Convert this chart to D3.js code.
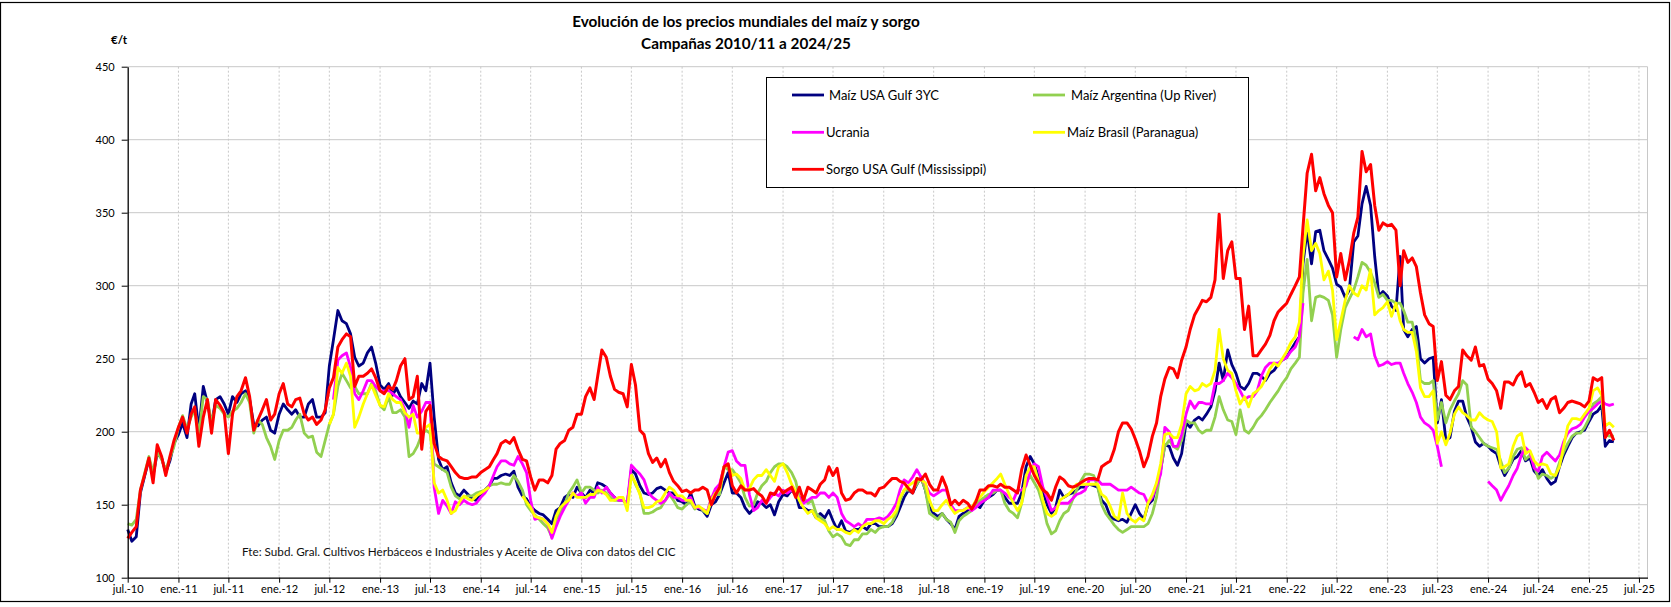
<!DOCTYPE html>
<html>
<head>
<meta charset="utf-8">
<script src="https://cdn.jsdelivr.net/npm/d3@7"></script>
<style>
  body { margin: 0; background: #fff; }
  svg { display: block; font-family: Lato, 'Open Sans', sans-serif; }
</style>
</head>
<body>
<div id="wrapper"></div>
<script>
// half-monthly readings from jul-10 (index 0) to apr-25, null = no quote
const firstYear = 2010
const firstMonth = 6

const usaGulf = [
  133,125,128,158,170,181,170,185,182,172,180,192,
  198,206,196,219,226,201,231,220,205,222,224,219,
  212,224,220,226,228,222,205,204,208,210,201,199,
  212,219,215,212,215,210,210,219,222,210,210,213,
  245,263,283,276,274,267,251,245,247,254,258,247,
  232,229,233,225,230,224,220,216,221,219,233,228,
  247,210,181,174,176,165,158,156,160,157,154,153,
  157,160,163,168,168,170,171,170,173,162,156,154,
  149,146,144,143,140,137,146,148,155,157,155,162,
  158,155,160,158,165,164,162,158,155,153,153,150,
  174,171,163,158,157,158,161,162,160,158,158,153,
  152,150,158,149,147,146,142,150,152,157,165,172,
  158,158,155,148,144,147,152,151,148,150,143,152,
  157,156,160,157,148,148,146,146,141,144,141,146,
  139,133,139,132,131,133,133,135,133,137,137,135,
  135,135,137,142,148,155,160,158,164,169,160,148,
  144,142,144,140,137,133,142,144,146,148,150,148,
  153,155,157,160,160,155,151,151,151,158,176,183,
  178,169,159,150,144,148,160,155,157,158,160,162,
  162,164,163,162,153,150,142,140,139,140,138,144,
  150,144,140,150,153,164,174,191,190,182,177,185,
  206,203,208,210,208,212,217,228,247,235,256,246,
  240,231,229,233,240,240,238,235,240,242,246,249,
  251,256,261,265,315,338,315,337,338,324,318,312,
  301,299,292,297,330,334,356,368,355,320,293,296,
  293,286,283,320,270,265,270,272,250,247,250,251,
  206,222,194,196,214,221,221,210,203,193,190,192,
  190,187,185,176,170,175,181,183,187,180,182,173,
  170,174,168,164,166,176,184,190,196,199,200,201,
  207,212,214,218,190,194,193
]

const argentina = [
  137,136,140,160,172,183,172,186,181,174,182,190,
  203,211,202,210,215,198,224,222,206,218,216,212,
  210,214,216,220,226,220,199,208,205,196,190,181,
  194,201,201,203,208,212,199,196,197,186,183,194,
  205,212,231,240,235,230,231,226,226,226,233,228,
  218,215,224,213,213,215,210,183,185,190,198,201,
  199,178,176,174,172,162,156,154,155,156,156,158,
  159,160,163,164,164,165,164,164,170,166,160,150,
  146,143,140,137,134,128,140,145,150,158,162,167,
  158,162,162,160,158,160,158,155,153,153,153,151,
  171,164,158,144,144,145,147,148,153,157,153,148,
  147,150,152,147,149,146,144,155,157,157,176,174,
  174,170,165,155,149,150,158,163,166,172,176,178,
  178,176,172,166,155,155,151,153,144,141,139,132,
  128,130,128,123,122,126,126,130,130,133,131,134,
  135,135,138,144,153,160,160,160,164,169,160,144,
  142,140,144,140,138,131,139,142,144,146,150,153,
  155,157,158,160,160,151,146,144,141,151,165,170,
  165,160,150,137,130,132,139,144,146,153,160,166,
  171,171,170,162,150,144,140,136,133,131,133,135,
  135,135,135,137,144,155,174,190,194,190,188,194,
  208,206,206,201,199,201,201,210,224,215,208,207,
  198,215,201,199,203,208,211,215,220,224,228,233,
  237,243,247,251,295,318,276,292,293,292,290,280,
  251,270,285,291,297,306,316,314,309,302,292,294,
  290,290,288,288,283,275,275,262,235,233,233,235,
  208,220,206,215,221,226,235,232,203,200,196,192,
  190,189,188,180,172,175,183,188,189,181,184,177,
  168,171,170,168,170,179,186,192,197,199,199,203,
  209,219,221,224,198,197,197
]

const ucrania = [
  null,null,null,null,null,null,null,null,null,null,null,null,
  null,null,null,null,null,null,null,null,null,null,null,null,
  null,null,null,null,null,null,null,null,null,null,null,null,
  null,null,null,null,null,null,null,null,null,null,null,null,
  null,222,249,252,254,244,226,222,228,235,235,231,
  228,228,228,226,224,222,215,203,218,210,214,220,
  220,162,144,153,149,144,152,150,153,151,150,151,
  155,158,163,170,176,180,180,178,177,183,178,172,
  153,140,141,140,137,127,135,142,148,153,158,156,
  158,151,155,155,162,158,162,158,155,153,153,151,
  177,174,171,167,158,155,153,151,153,158,155,155,
  153,153,155,148,148,147,145,154,161,164,176,186,
  187,180,177,177,157,146,148,153,151,155,158,156,
  160,158,160,158,155,151,153,155,155,158,158,155,
  158,155,144,139,137,135,137,135,140,140,140,141,
  140,142,146,151,160,167,165,169,174,169,164,158,
  156,158,160,160,150,146,146,146,148,146,148,151,
  153,155,160,160,160,158,155,153,160,160,163,173,
  178,176,162,155,146,148,151,151,151,154,157,158,
  160,167,167,167,164,164,164,162,160,160,160,162,
  160,158,157,151,155,163,171,203,200,190,190,198,
  212,221,216,220,220,219,219,233,233,235,240,237,
  233,228,222,224,224,228,238,244,247,247,247,249,
  251,255,258,265,288,null,null,null,null,null,null,null,
  null,null,null,null,265,263,270,265,267,252,245,246,
  248,246,247,247,240,233,227,220,210,206,204,201,
  190,176,null,null,null,null,null,null,null,null,null,null,
  166,163,160,153,158,163,170,175,184,189,186,175,
  173,183,186,183,180,184,193,199,202,203,205,210,
  214,216,219,221,219,218,219
]

const brasil = [
  null,null,null,null,null,null,null,null,null,null,null,null,
  null,null,null,null,null,null,null,null,null,null,null,null,
  null,null,null,null,null,null,null,null,null,null,null,null,
  null,null,null,null,null,null,null,null,null,null,null,null,
  205,212,244,240,247,238,203,210,219,226,232,225,
  218,217,226,222,220,220,213,210,212,199,199,203,
  205,165,158,160,153,144,146,152,156,154,153,156,
  158,160,162,null,null,null,null,null,null,null,156,152,
  148,142,141,140,137,131,142,148,151,153,158,155,
  155,155,157,157,160,159,157,153,153,155,155,146,
  170,165,157,148,148,149,152,153,158,162,160,156,
  156,153,153,148,149,147,144,153,158,160,176,177,
  170,171,168,160,161,167,170,170,174,170,166,176,
  178,172,164,159,153,148,144,146,141,139,137,133,
  135,133,133,131,130,133,131,135,137,137,139,139,
  137,140,142,146,155,160,163,165,167,167,165,153,
  146,146,150,153,148,144,146,146,148,148,153,155,
  159,162,165,168,171,164,157,151,146,151,170,176,
  176,166,153,144,142,144,153,155,157,160,164,164,
  164,164,164,164,157,155,149,142,140,158,144,140,
  138,141,139,151,157,165,178,198,199,196,196,205,
  226,231,228,229,233,231,233,242,270,250,242,240,
  228,219,224,217,226,228,231,236,243,247,245,250,
  255,261,265,275,320,345,324,329,322,304,310,297,
  263,276,290,300,295,293,300,297,311,280,283,285,
  289,279,288,276,270,268,268,255,230,224,224,228,
  192,200,191,199,212,217,213,211,208,208,213,210,
  208,207,200,175,176,178,190,197,199,185,187,180,
  177,178,177,171,170,176,190,204,209,209,208,212,
  216,228,230,225,204,206,203
]

const sorgo = [
  127,131,135,160,171,182,165,191,183,170,183,194,
  203,210,199,212,217,190,210,222,199,222,218,213,
  185,212,224,228,237,224,201,208,215,222,208,212,
  226,233,219,217,222,223,212,208,210,205,208,215,
  230,237,258,263,267,265,231,238,238,240,243,237,
  228,226,231,229,235,245,250,222,224,238,188,214,
  218,192,183,181,180,176,172,169,168,168,169,169,
  172,174,176,181,185,192,194,192,196,188,181,180,
  169,160,167,167,165,170,188,192,194,201,203,212,
  212,224,230,222,238,256,251,238,229,227,226,217,
  246,232,201,198,185,179,182,176,181,172,166,163,
  159,160,158,160,160,162,160,150,157,162,176,178,
  163,158,163,160,160,161,158,156,151,158,157,162,
  158,160,162,155,162,153,162,160,158,164,167,176,
  170,175,158,153,154,158,160,160,158,158,156,161,
  162,165,168,168,166,165,161,158,168,167,171,164,
  160,160,169,162,150,153,150,153,151,147,152,160,
  160,163,163,162,164,162,162,160,158,174,184,177,
  170,165,160,158,153,162,169,167,163,162,163,165,
  167,168,168,167,176,178,180,188,200,206,206,202,
  195,187,176,183,197,206,224,236,244,243,237,249,
  258,270,280,285,290,289,292,304,349,305,324,330,
  305,305,270,286,252,252,256,260,266,276,282,285,
  288,294,300,306,340,377,390,365,374,363,355,350,
  306,322,304,317,336,347,392,378,383,355,338,343,
  341,342,338,300,324,316,319,313,295,280,274,272,
  235,248,225,222,228,231,256,252,249,258,245,246,
  236,233,228,216,234,234,232,238,241,231,233,227,
  220,222,216,222,224,213,216,220,221,220,219,217,
  221,237,235,237,196,201,194
]

const seriesNames = ['Maíz USA Gulf 3YC', 'Maíz Argentina (Up River)', 'Ucrania', 'Maíz Brasil (Paranagua)', 'Sorgo USA Gulf (Mississippi)']
const seriesValues = [usaGulf, argentina, ucrania, brasil, sorgo]
const seriesColors = ['#000080', '#92D050', '#FF00FF', '#FFFF00', '#FF0000']

const yTicks = [100, 150, 200, 250, 300, 350, 400, 450]
const xTickLabels = [
  'jul.-10','ene.-11','jul.-11','ene.-12','jul.-12','ene.-13','jul.-13','ene.-14',
  'jul.-14','ene.-15','jul.-15','ene.-16','jul.-16','ene.-17','jul.-17','ene.-18',
  'jul.-18','ene.-19','jul.-19','ene.-20','jul.-20','ene.-21','jul.-21','ene.-22',
  'jul.-22','ene.-23','jul.-23','ene.-24','jul.-24','ene.-25','jul.-25'
]

const titleLines = ['Evolución de los precios mundiales del maíz y sorgo', 'Campañas 2010/11 a 2024/25']
const sourceNote = 'Fte: Subd. Gral. Cultivos Herbáceos e Industriales y Aceite de Oliva con datos del CIC'

const drawChart = () => {
  const dimensions = {
    width: 1671,
    height: 607,
    margin: { top: 66.7, right: 23.5, bottom: 29.3, left: 127.7 }
  }
  dimensions.boundedWidth = dimensions.width - dimensions.margin.left - dimensions.margin.right
  dimensions.boundedHeight = dimensions.height - dimensions.margin.top - dimensions.margin.bottom

  const periodDate = (i) => new Date(firstYear, firstMonth + Math.floor(i / 2), i % 2 ? 16 : 1)
  const labelDate = (s) => new Date(2000 + +s.slice(-2), s.startsWith('ene') ? 0 : 6, 1)

  const wrapper = d3.select('#wrapper')
    .append('svg')
    .attr('width', dimensions.width)
    .attr('height', dimensions.height)

  // outer frame
  wrapper.append('rect')
    .attr('x', 0.5).attr('y', 2.5)
    .attr('width', dimensions.width - 2).attr('height', 599)
    .attr('fill', 'white').attr('stroke', 'black').attr('stroke-width', 1.2)

  const bounds = wrapper.append('g')
    .attr('transform', `translate(${dimensions.margin.left}, ${dimensions.margin.top})`)

  const scaleX = d3.scaleTime()
    .domain([new Date(2010, 6, 1), new Date(2025, 7, 1)])
    .range([0, dimensions.boundedWidth])

  const scaleY = d3.scaleLinear()
    .domain([100, 450])
    .range([dimensions.boundedHeight, 0])

  const tickDates = xTickLabels.map(labelDate)

  // grid
  bounds.append('g')
    .selectAll('line')
    .data(yTicks.slice(1))
    .join('line')
    .attr('x1', 0).attr('x2', dimensions.boundedWidth)
    .attr('y1', d => scaleY(d)).attr('y2', d => scaleY(d))
    .attr('stroke', '#c8c8c8')

  bounds.append('g')
    .selectAll('line')
    .data(tickDates.slice(1))
    .join('line')
    .attr('x1', d => scaleX(d)).attr('x2', d => scaleX(d))
    .attr('y1', 0).attr('y2', dimensions.boundedHeight)
    .attr('stroke', '#c8c8c8')
    .attr('stroke-dasharray', '2,2')

  bounds.append('line')
    .attr('x1', dimensions.boundedWidth).attr('x2', dimensions.boundedWidth)
    .attr('y1', 0).attr('y2', dimensions.boundedHeight)
    .attr('stroke', '#c8c8c8')

  // series
  const lineGenerator = d3.line()
    .defined(d => d.value != null)
    .x(d => scaleX(d.date))
    .y(d => scaleY(d.value))

  seriesValues.forEach((values, k) => {
    const points = values.map((value, i) => ({ date: periodDate(i), value }))
    bounds.append('path')
      .datum(points)
      .attr('d', lineGenerator)
      .attr('fill', 'none')
      .attr('stroke', seriesColors[k])
      .attr('stroke-width', k === 4 ? 3 : 2.8)
      .attr('stroke-linejoin', 'round')
  })

  // axes
  const xAxisGenerator = d3.axisBottom(scaleX)
    .tickValues(tickDates)
    .tickFormat((d, i) => xTickLabels[i])
    .tickSize(5)
    .tickSizeOuter(0)
    .tickPadding(3)
  const xAxis = bounds.append('g')
    .attr('transform', `translate(0, ${dimensions.boundedHeight})`)
    .call(xAxisGenerator)

  const yAxisGenerator = d3.axisLeft(scaleY)
    .tickValues(yTicks)
    .tickSize(6)
    .tickPadding(7)
    .tickSizeOuter(0)
  const yAxis = bounds.append('g').call(yAxisGenerator)

  ;[xAxis, yAxis].forEach(axis => {
    axis.select('.domain').attr('stroke', 'black').attr('stroke-width', 1.3)
    axis.selectAll('.tick line').attr('stroke', 'black')
    axis.selectAll('text')
      .attr('fill', 'black')
      .style('font-size', '11px')
      .style('font-family', 'Lato, sans-serif')
  })

  // source note
  wrapper.append('text')
    .text(sourceNote)
    .attr('x', 242)
    .attr('y', 556)
    .attr('fill', '#111')
    .style('font-size', '11.7px')

  // titles
  wrapper.selectAll('.title')
    .data(titleLines)
    .join('text')
    .attr('class', 'title')
    .text(d => d)
    .attr('x', 746)
    .attr('y', (d, i) => 26.5 + i * 22.5)
    .attr('text-anchor', 'middle')
    .attr('fill', 'black')
    .style('font-size', '15.3px')
    .style('font-weight', 'bold')

  wrapper.append('text')
    .text('€/t')
    .attr('x', 111)
    .attr('y', 43.5)
    .attr('fill', 'black')
    .style('font-size', '11.5px')
    .style('font-weight', 'bold')

  // legend
  const legend = wrapper.append('g')
  legend.append('rect')
    .attr('x', 766.5).attr('y', 77.5)
    .attr('width', 482).attr('height', 110)
    .attr('fill', 'white').attr('stroke', 'black')

  const legendPos = [
    { x: 792, y: 95, tx: 829 },
    { x: 1033, y: 95, tx: 1071 },
    { x: 792, y: 132.3, tx: 826 },
    { x: 1033, y: 132.3, tx: 1067 },
    { x: 792, y: 169.3, tx: 826 }
  ]

  const legendItems = legend.selectAll('g')
    .data(seriesNames)
    .join('g')
    .attr('transform', (d, i) => `translate(${legendPos[i].x}, ${legendPos[i].y})`)

  legendItems.append('line')
    .attr('x1', 0).attr('x2', 32)
    .attr('stroke', (d, i) => seriesColors[i])
    .attr('stroke-width', 2.8)

  legendItems.append('text')
    .text(d => d)
    .attr('x', (d, i) => legendPos[i].tx - legendPos[i].x)
    .attr('dy', '0.35em')
    .attr('fill', 'black')
    .style('font-size', '13px')
}
drawChart()
</script>
</body>
</html>
